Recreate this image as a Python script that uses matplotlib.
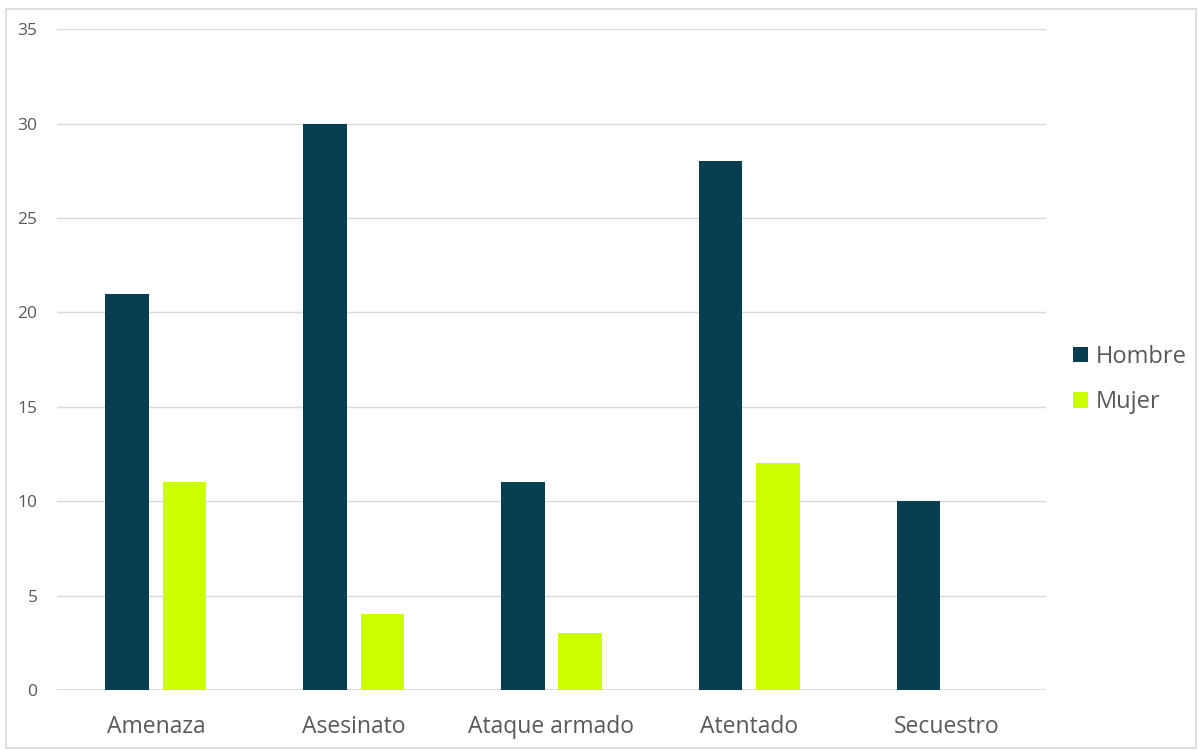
import numpy as np
import matplotlib.pyplot as plt
from matplotlib.patches import Rectangle

categories = ["Amenaza", "Asesinato", "Ataque armado", "Atentado", "Secuestro"]
hombre = [21, 30, 11, 28, 10]
mujer = [11, 4, 3, 12, 0]

plt.rcParams['font.family'] = ['Open Sans', 'DejaVu Sans']
text_color = '#595959'

fig = plt.figure(figsize=(11.98, 7.5), dpi=100)
ax = fig.add_axes([0.0476, 0.08, 0.8254, 0.881])

# outer frame like the spreadsheet chart area
fig.patches.append(Rectangle((0.005, 0.003), 0.993, 0.985, transform=fig.transFigure,
                             fill=False, edgecolor='#d9d9d9', linewidth=1.2))

x = np.arange(len(categories))
w = 0.22
ax.bar(x - 0.145, hombre, w, color='#073e52', label='Hombre', zorder=3)
ax.bar(x + 0.145, mujer, w, color='#ccff00', label='Mujer', zorder=3)

ax.set_xlim(-0.5, len(categories) - 0.5)
ax.set_ylim(0, 35)
ax.set_yticks(range(0, 36, 5))
ax.grid(axis='y', color='#d9d9d9', linewidth=1, zorder=0)
for s in ax.spines.values():
    s.set_visible(False)
ax.axhline(0, color='#d9d9d9', linewidth=1.2, zorder=2)
ax.tick_params(axis='both', length=0, colors=text_color)
ax.tick_params(axis='y', labelsize=12.5, pad=14)
ax.tick_params(axis='x', labelsize=16.5, pad=18)
ax.set_xticks(x)
ax.set_xticklabels(categories)

leg = ax.legend(loc='center left', bbox_to_anchor=(1.006, 0.47), frameon=False,
                fontsize=17, handlelength=0.65, handleheight=0.65, handletextpad=0.3,
                labelspacing=0.9)
for t in leg.get_texts():
    t.set_color(text_color)

fig.savefig('out.png', dpi=100)
